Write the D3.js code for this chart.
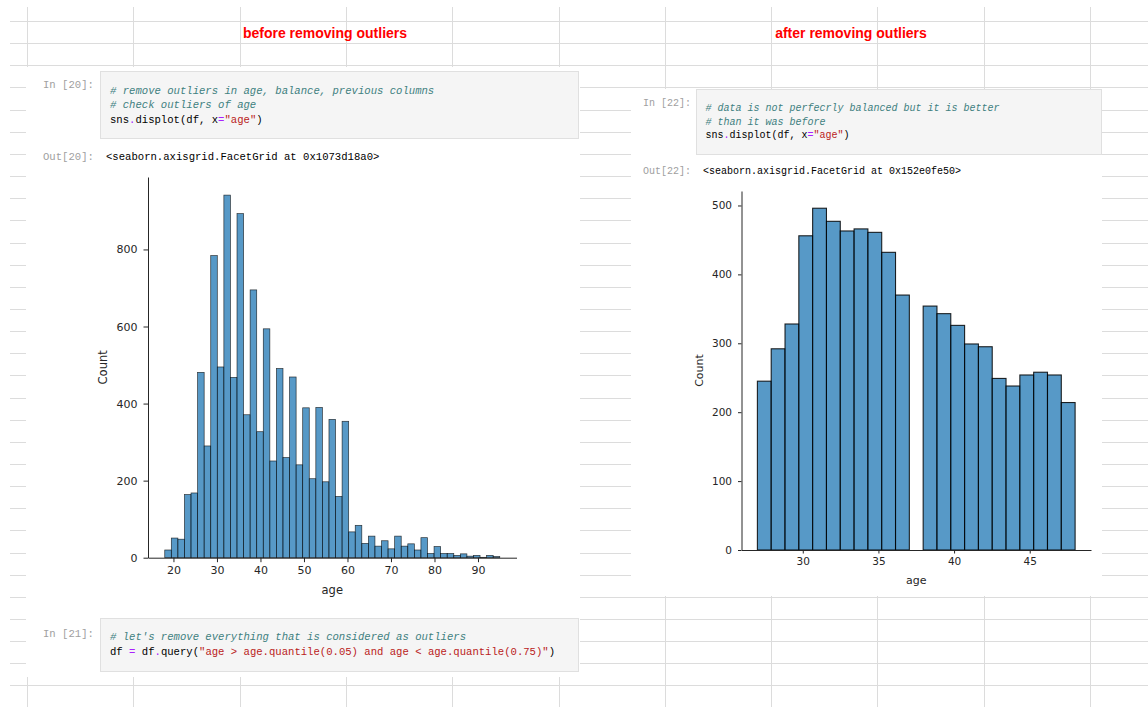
<!DOCTYPE html>
<html>
<head>
<meta charset="utf-8">
<script src="https://cdn.jsdelivr.net/npm/d3@7"></script>
<style>
  html, body { margin: 0; padding: 0; background: #ffffff; }
  svg { display: block; }
  text { white-space: pre; }
</style>
</head>
<body>
<svg id="page" width="1148" height="707"></svg>
<script>
// ---- histogram data: age counts per equal-width bin ----
const beforeAgeRange = [18, 95];
const beforeCounts = [20, 51, 48, 164, 168, 481, 290, 784, 495, 941, 468, 893, 371, 695, 327,
  594, 251, 491, 260, 469, 241, 389, 205, 390, 197, 359, 159, 354, 67, 84, 37, 56, 30, 44, 23,
  56, 30, 36, 20, 52, 11, 29, 11, 11, 6, 10, 4, 6, 1, 6, 3];
const beforeXTicks = [20, 30, 40, 50, 60, 70, 80, 90];
const beforeYTicks = [0, 200, 400, 600, 800];

const afterAgeRange = [27, 48];
const afterCounts = [245, 292, 328, 456, 496, 477, 463, 466, 461, 432, 370, 0, 354, 343, 326,
  299, 295, 249, 238, 254, 258, 254, 214];
const afterXTicks = [30, 35, 40, 45];
const afterYTicks = [0, 100, 200, 300, 400, 500];

// ---- notebook cell text: [text, token kind] ----
const cell20 = [
  [["# remove outliers in age, balance, previous columns", "c"]],
  [["# check outliers of age", "c"]],
  [["sns", "n"], [".", "o"], ["displot(df, x", "n"], ["=", "o"], ["\"age\"", "s"], [")", "n"]]
];
const cell21 = [
  [["# let's remove everything that is considered as outliers", "c"]],
  [["df ", "n"], ["=", "o"], [" df", "n"], [".", "o"], ["query(", "n"],
   ["\"age > age.quantile(0.05) and age < age.quantile(0.75)\"", "s"], [")", "n"]]
];
const cell22 = [
  [["# data is not perfecrly balanced but it is better", "c"]],
  [["# than it was before", "c"]],
  [["sns", "n"], [".", "o"], ["displot(df, x", "n"], ["=", "o"], ["\"age\"", "s"], [")", "n"]]
];
const out20 = "<seaborn.axisgrid.FacetGrid at 0x1073d18a0>";
const out22 = "<seaborn.axisgrid.FacetGrid at 0x152e0fe50>";

const W = 1148, H = 707;
const svg = d3.select("#page");
const tokenColor = { c: "#408080", n: "#000000", o: "#AA22FF", s: "#BA2121" };
const MONO = "'Liberation Mono', 'DejaVu Sans Mono', monospace";
const SANS = "'DejaVu Sans', sans-serif";

// ---- spreadsheet grid in the background ----
const grid = svg.append("g").attr("stroke", "#dcdcdc").attr("stroke-width", 1);
for (let y = 21; y < H; y += 22.15) {
  grid.append("line").attr("x1", 10).attr("x2", W)
    .attr("y1", Math.round(y) + 0.5).attr("y2", Math.round(y) + 0.5);
}
for (let x = 27; x < W; x += 106.3) {
  grid.append("line").attr("y1", 7).attr("y2", H)
    .attr("x1", Math.round(x) + 0.5).attr("x2", Math.round(x) + 0.5);
}

// white notebook panels pasted over the grid
svg.append("rect").attr("x", 26).attr("y", 67).attr("width", 554).attr("height", 610).attr("fill", "#fff");
svg.append("rect").attr("x", 631).attr("y", 89).attr("width", 471).attr("height", 507).attr("fill", "#fff");

// headings
svg.append("text").attr("x", 325).attr("y", 38).attr("text-anchor", "middle")
  .attr("font-family", "'Liberation Sans', Arial, sans-serif").attr("font-size", 14)
  .attr("font-weight", "bold").attr("fill", "#ff0000").text("before removing outliers");
svg.append("text").attr("x", 851).attr("y", 38).attr("text-anchor", "middle")
  .attr("font-family", "'Liberation Sans', Arial, sans-serif").attr("font-size", 14)
  .attr("font-weight", "bold").attr("fill", "#ff0000").text("after removing outliers");

// ---- notebook cells ----
function prompt(x, y, label, size) {
  svg.append("text").attr("x", x).attr("y", y).attr("font-family", MONO)
    .attr("font-size", size).attr("fill", "#a0a0a0").text(label);
}
function codeCell(box, lines, x, y0, lineH, size) {
  svg.append("rect").attr("x", box[0] + 0.5).attr("y", box[1] + 0.5)
    .attr("width", box[2]).attr("height", box[3])
    .attr("fill", "#f5f5f5").attr("stroke", "#e0e0e0");
  lines.forEach((tokens, i) => {
    const t = svg.append("text").attr("x", x).attr("y", y0 + i * lineH)
      .attr("font-family", MONO).attr("font-size", size);
    tokens.forEach(([s, k]) => {
      t.append("tspan").attr("fill", tokenColor[k])
        .attr("font-style", k === "c" ? "italic" : "normal").text(s);
    });
  });
}
function outText(x, y, s, size) {
  svg.append("text").attr("x", x).attr("y", y).attr("font-family", MONO)
    .attr("font-size", size).attr("fill", "#000").text(s);
}

prompt(43, 88, "In [20]:", 10.6);
codeCell([100, 71, 478, 67], cell20, 110, 94, 14.3, 10.6);
prompt(43, 159.5, "Out[20]:", 10.6);
outText(106, 159.5, out20, 10.6);

prompt(43, 636.5, "In [21]:", 10.6);
codeCell([100, 618, 478, 53], cell21, 110, 640, 15, 10.6);

prompt(643, 105.5, "In [22]:", 10);
codeCell([696, 89, 405, 65], cell22, 705.5, 111, 13.6, 10);
prompt(643, 174, "Out[22]:", 10);
outText(703, 174, out22, 10);

// ---- histogram drawer ----
function histogram(o) {
  const g = svg.append("g");
  const x = d3.scaleLinear().domain(o.xDomain).range(o.xRange);
  const y = d3.scaleLinear().domain(o.yDomain).range(o.yRange);
  const n = o.counts.length;
  const w = (o.ageRange[1] - o.ageRange[0]) / n;
  const bins = o.counts.map((c, i) => ({ x0: o.ageRange[0] + i * w, x1: o.ageRange[0] + (i + 1) * w, c }));

  g.append("g").selectAll("rect").data(bins.filter(d => d.c > 0)).join("rect")
    .attr("x", d => x(d.x0)).attr("width", d => x(d.x1) - x(d.x0))
    .attr("y", d => y(d.c)).attr("height", d => y(0) - y(d.c))
    .attr("fill", "#1f77b4").attr("fill-opacity", 0.75)
    .attr("stroke", "#000").attr("stroke-opacity", o.edgeOpacity).attr("stroke-width", o.edgeWidth);

  const ax = g.append("g").attr("transform", `translate(0,${o.yRange[0]})`)
    .call(d3.axisBottom(x).tickValues(o.xTicks).tickSize(o.tick).tickPadding(o.pad).tickSizeOuter(0));
  const ay = g.append("g").attr("transform", `translate(${o.xRange[0]},0)`)
    .call(d3.axisLeft(y).tickValues(o.yTicks).tickSize(o.tick).tickPadding(o.pad + 1.5).tickSizeOuter(0));
  [ax, ay].forEach(a => {
    a.selectAll("path, line").attr("stroke", "#262626").attr("stroke-width", 1);
    a.selectAll("text").attr("font-family", SANS).attr("font-size", o.font).attr("fill", "#262626");
  });

  g.append("text").attr("x", (o.xRange[0] + o.xRange[1]) / 2).attr("y", o.xLabelY)
    .attr("text-anchor", "middle").attr("font-family", SANS).attr("font-size", o.font + 0.5)
    .attr("fill", "#262626").text("age");
  g.append("text").attr("transform", `translate(${o.yLabelX},${(o.yRange[0] + o.yRange[1]) / 2}) rotate(-90)`)
    .attr("text-anchor", "middle").attr("font-family", SANS).attr("font-size", o.font + 0.5)
    .attr("fill", "#262626").text("Count");
}

histogram({
  counts: beforeCounts, ageRange: beforeAgeRange, xTicks: beforeXTicks, yTicks: beforeYTicks,
  xDomain: [14.15, 98.85], xRange: [148, 516.5],
  yDomain: [0, 988], yRange: [557.7, 177],
  tick: 4.5, pad: 4.5, font: 11, edgeWidth: 0.7, edgeOpacity: 0.75,
  xLabelY: 594, yLabelX: 107
});

histogram({
  counts: afterCounts, ageRange: afterAgeRange, xTicks: afterXTicks, yTicks: afterYTicks,
  xDomain: [25.95, 49.05], xRange: [741.5, 1091],
  yDomain: [0, 521], yRange: [550, 191],
  tick: 3.5, pad: 4.5, font: 10.5, edgeWidth: 1.1, edgeOpacity: 0.85,
  xLabelY: 584, yLabelX: 703
});
</script>
</body>
</html>
